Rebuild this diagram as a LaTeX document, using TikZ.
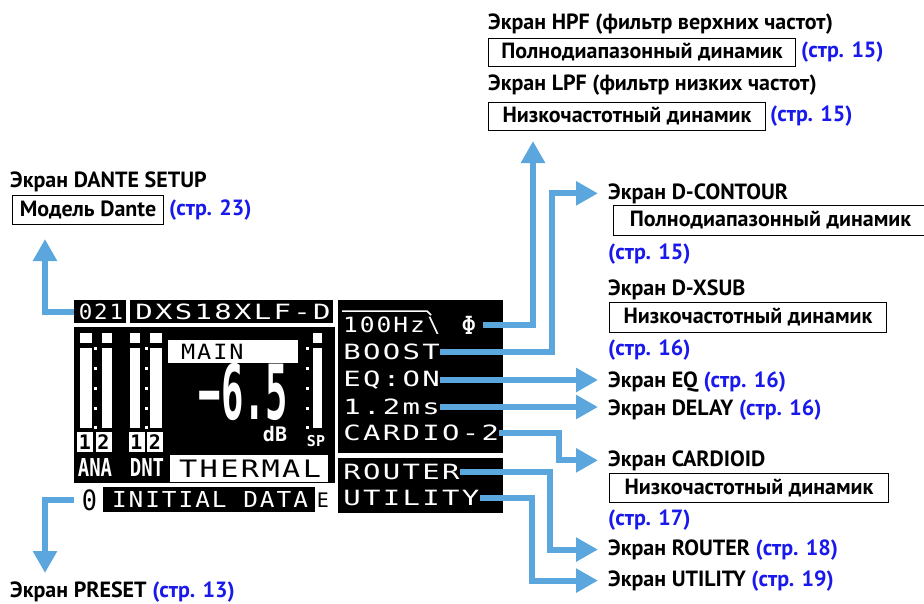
\documentclass[tikz,border=0pt]{standalone}
\usepackage{fontspec}
\setmainfont{PT Sans}
\newfontfamily\lcdfont[LetterSpace=8]{DejaVu Sans Mono}
\newfontfamily\lcdnarrow{DejaVu Sans Mono}
\usetikzlibrary{arrows.meta}

\definecolor{flowblue}{RGB}{91,167,221}
\definecolor{pageblue}{RGB}{25,25,235}

\tikzset{
  flow/.style={draw=flowblue, line width=6pt, -{Triangle[width=23pt,length=22pt]}},
  screentitle/.style={anchor=base west, inner xsep=10pt, inner ysep=0pt,
    font=\bfseries\fontsize{22}{24}\selectfont},
  modelbox/.style={draw, line width=1pt, anchor=north west, inner sep=0pt,
    font=\bfseries\fontsize{22}{24}\selectfont},
  pageref/.style={anchor=base west, inner sep=0pt, text=pageblue,
    font=\bfseries\fontsize{22}{24}\selectfont},
  lcd/.style={inner sep=0pt, text=white},
  lcdrow/.style={lcd, anchor=west, xscale=1.38, font=\lcdfont\fontsize{21}{21}\selectfont},
  lcdbox/.style={fill=black, inner sep=0pt},
  lcdinv/.style={fill=white, text=black, inner sep=0pt},
}

\newcommand\pg[1]{\textcolor{pageblue}{#1}}

\begin{document}
\begin{tikzpicture}[x=1pt, y=-1pt]
  \useasboundingbox (0,0) rectangle (924,603);

  % left display
  \node[lcdbox, minimum width=52pt, minimum height=23pt] (box021) at (100,311.5) {};
  \node[lcd, xscale=1.07, font=\lcdfont\fontsize{21}{21}\selectfont] (num021) at (101,311.5) {021};
  \node[lcdbox, minimum width=203pt, minimum height=23pt] (modelbar) at (231.5,311.5) {};
  \node[lcd, xscale=1.38, font=\lcdfont\fontsize{21}{21}\selectfont] (model) at (233,311.5) {DXS18XLF-D};
  \fill (74,327) rectangle (335,483);

  % level meters
  \foreach \x/\w in {80/12, 102/10, 130/10, 150/12, 313/9} {
    \fill[white] (\x,333) rectangle ++(\w,10);
    \fill[white] (\x,348) rectangle ++(\w,80);
  }
  \foreach \x in {94, 145, 306}
    \foreach \y in {347, 367, 387, 407, 426}
      \fill[white] (\x,\y) rectangle ++(3,3);
  \foreach \x/\n [count=\i] in {85/1, 103.5/2, 136.5/1, 155/2}
    \node[lcdinv, minimum width=16pt, minimum height=20pt, font=\lcdnarrow\bfseries\fontsize{20}{20}\selectfont] (chan\i) at (\x,442) {\n};
  \node[lcd, font=\lcdnarrow\bfseries\fontsize{19}{19}\selectfont, yscale=1.3] (ana) at (95,467) {ANA};
  \node[lcd, font=\lcdnarrow\bfseries\fontsize{19}{19}\selectfont, yscale=1.3] (dnt) at (147,467) {DNT};

  % level readout
  \node[lcdinv, minimum width=130pt, minimum height=23pt] (mainbox) at (233,351.5) {};
  \node[lcd, text=black, anchor=west, xscale=1.12, font=\lcdfont\fontsize{21}{21}\selectfont] (maintxt) at (181,351.5) {MAIN};
  \node[lcd, font=\lcdnarrow\bfseries\fontsize{76}{76}\selectfont, xscale=0.49] (gain) at (243.5,392) {−6.5};
  \node[lcd, font=\lcdnarrow\bfseries\fontsize{20}{20}\selectfont] (db) at (275,434) {dB};
  \node[lcd, font=\lcdnarrow\bfseries\fontsize{15}{15}\selectfont] (sp) at (316,441) {SP};
  \node[lcdinv, minimum width=158pt, minimum height=27pt] (thermalbox) at (249,468.5) {};
  \node[lcd, text=black, xscale=1.26, font=\lcdfont\fontsize{24}{24}\selectfont] (thermal) at (250,468.5) {THERMAL};

  % preset line
  \node[lcd, text=black, xscale=0.9, font=\lcdnarrow\fontsize{28}{28}\selectfont, inner xsep=9pt] (zero) at (89.5,500) {0};
  \node[lcdbox, minimum width=212pt, minimum height=25pt] (initbox) at (209,499.5) {};
  \node[lcd, xscale=1.11, font=\lcdfont\fontsize{22}{22}\selectfont] (initial) at (210,499.5) {INITIAL DATA};
  \node[lcd, text=black, font=\lcdnarrow\fontsize{20}{20}\selectfont] (edit) at (323,500) {E};

  % right display
  \fill (338,300) rectangle (503,453);
  \fill (338,458) rectangle (503,513);
  \draw[white, line width=1.5pt] (342,311) -- (427,311) -- (431,315);
  \node[lcd, anchor=west, xscale=1.17, font=\lcdfont\fontsize{21}{21}\selectfont] (hpfval) at (343,325) {100Hz};
  \node[lcd, font=\lcdnarrow\fontsize{21}{21}\selectfont] (slope) at (434,326) {\textbackslash};
  \node[lcd, inner xsep=6pt, font=\lcdnarrow\fontsize{25}{25}\selectfont] (phi) at (469,325) {Φ};
  \foreach \nd/\y/\txt in {boost/352/BOOST, eqon/380/EQ:ON, dly/407/1.2ms,
      cardio/433/CARDIO-2, router/472/ROUTER, utility/498/UTILITY}
    \node[lcdrow] (\nd) at (343,\y) {\txt};

  % screen labels
  \node[screentitle] (hpf) at (478,29) {Экран HPF (фильтр верхних частот)};
  \node[modelbox, minimum width=307pt, minimum height=28pt] (hpfbox) at (488,38) {Полнодиапазонный динамик};
  \node[pageref, anchor=west] (hpfpage) at ([xshift=5pt]hpfbox.east) {(стр. 15)};
  \node[screentitle] (lpf) at (478,90) {Экран LPF (фильтр низких частот)};
  \node[modelbox, minimum width=277pt, minimum height=28pt] (lpfbox) at (488,102) {Низкочастотный динамик};
  \node[pageref, anchor=west] (lpfpage) at ([xshift=4pt]lpfbox.east) {(стр. 15)};

  \node[screentitle] (dante) at (0,187) {Экран DANTE SETUP};
  \node[modelbox, minimum width=151pt, minimum height=29pt] (dantebox) at (12,195) {Модель Dante};
  \node[pageref, anchor=west] (dantepage) at ([xshift=5pt]dantebox.east) {(стр. 23)};

  \node[screentitle] (dcontour) at (598,199) {Экран D-CONTOUR};
  \node[modelbox, minimum width=314pt, minimum height=30pt] (dcontourbox) at (613,205) {Полнодиапазонный динамик};
  \node[pageref] (dcontourpage) at (608,259) {(стр. 15)};
  \node[screentitle] (dxsub) at (598,295) {Экран D-XSUB};
  \node[modelbox, minimum width=277pt, minimum height=30pt] (dxsubbox) at (609,302) {Низкочастотный динамик};
  \node[pageref] (dxsubpage) at (608,355) {(стр. 16)};
  \node[screentitle] (eq) at (598,387) {Экран EQ \pg{(стр. 16)}};
  \node[screentitle] (delay) at (598,415) {Экран DELAY \pg{(стр. 16)}};
  \node[screentitle] (cardioid) at (598,466) {Экран CARDIOID};
  \node[modelbox, minimum width=279pt, minimum height=29pt] (cardioidbox) at (609,473) {Низкочастотный динамик};
  \node[pageref] (cardioidpage) at (608,525) {(стр. 17)};
  \node[screentitle] (routerlbl) at (598,555) {Экран ROUTER \pg{(стр. 18)}};
  \node[screentitle] (utilitylbl) at (598,586) {Экран UTILITY \pg{(стр. 19)}};
  \node[screentitle] (preset) at (0,597) {Экран PRESET \pg{(стр. 13)}};
  \coordinate (presetin) at (45,573);

  % arrows
  \draw[flow] (box021.west) -| ([xshift=33pt, yshift=-14pt]dantebox.south west);
  \draw[flow] (zero.west) -| (presetin);
  \draw[flow] (phi.east) -| ([xshift=45pt, yshift=-10pt]lpfbox.south west);
  \draw[flow] (boost.east) -| ([xshift=-46pt]dcontour.west) -- (dcontour.west);
  \draw[flow] (eqon.east) -- (eqon.east -| eq.west);
  \draw[flow] (dly.east) -- (dly.east -| delay.west);
  \draw[flow] (cardio.east) -| ([xshift=-39pt]cardioid.west) -- (cardioid.west);
  \draw[flow] (router.east) -| ([xshift=-48pt]routerlbl.west) -- (routerlbl.west);
  \draw[flow] (utility.east) -| ([xshift=-66pt]utilitylbl.west) -- (utilitylbl.west);
\end{tikzpicture}
\end{document}
